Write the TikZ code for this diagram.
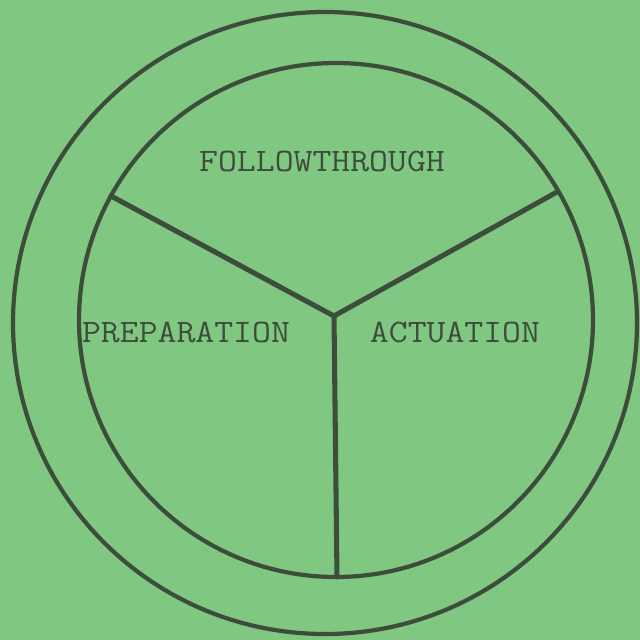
\documentclass[tikz,border=0pt]{standalone}
\usepackage{tikz}
\definecolor{paper}{HTML}{80C882}
\definecolor{ink}{HTML}{3C4E3B}

\begin{document}
\begin{tikzpicture}[x=0.025cm, y=-0.025cm,
    ring/.style = {draw=ink, line width=3pt},
    spoke/.style = {draw=ink, line width=3.6pt, line cap=round},
    phase/.style = {text=ink, inner sep=0pt, xscale=1.12, transform shape,
      font=\ttfamily\fontsize{23.3pt}{26pt}\selectfont}]
    \fill[paper] (0,0) rectangle (640,640);
    \useasboundingbox (0,0) rectangle (640,640);
    % rings
    \draw[ring] (325,323) ellipse [x radius=312, y radius=311];
    \draw[ring] (336,320) circle [radius=257];
    % spokes
    \coordinate (hub) at (334,316);
    \coordinate (left) at (111,196);
    \coordinate (right) at (557,192);
    \coordinate (bottom) at (337,577);
    \draw[spoke] (hub) -- (left);
    \draw[spoke] (hub) -- (right);
    \draw[spoke] (hub) -- (bottom);
    % labels
    \node[phase] (follow) at (322,161) {FOLLOWTHROUGH};
    \node[phase] (prep) at (186,332) {PREPARATION};
    \node[phase] (act) at (455,332) {ACTUATION};
\end{tikzpicture}
\end{document}
